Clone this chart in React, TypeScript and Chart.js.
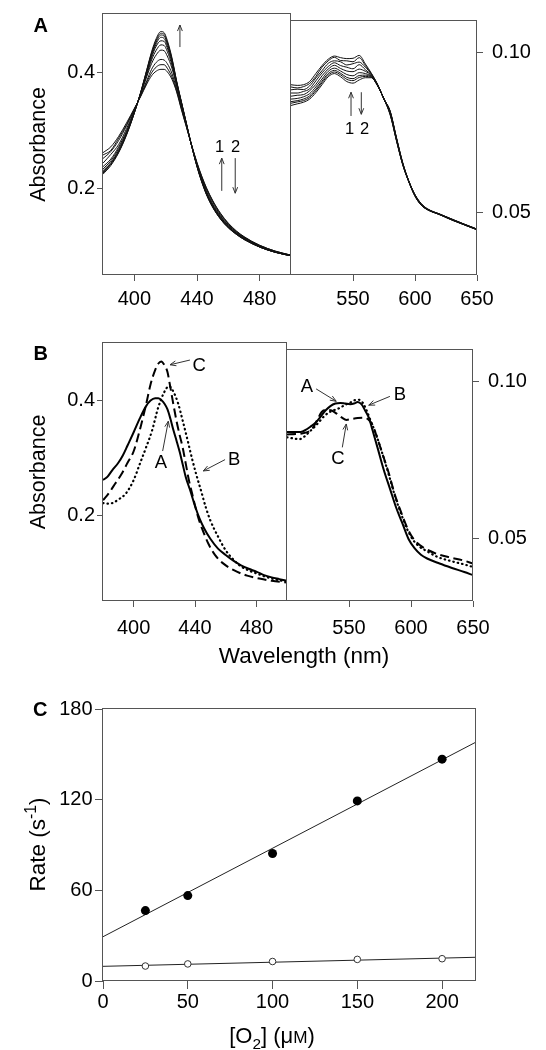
import React, { useEffect, useRef } from "react";
import { Chart, registerables } from "chart.js";

Chart.register(...registerables);

const FONT = '"Liberation Sans", Arial, Helvetica, sans-serif';
const INK = "#000";
const FRAME = "#555";
const TICK_SIZE = 20;

// ---------------- Panel A : Soret region (nm) ----------------
const soretWavelengths = [380, 385, 390, 395, 400, 404, 408, 411, 414, 417, 419, 421, 424, 427, 430, 433, 436, 440, 443, 446, 450, 455, 460, 465, 470, 480, 490, 500];
const soretTrace1 = [0.225, 0.240, 0.262, 0.292, 0.330, 0.365, 0.405, 0.435, 0.458, 0.470, 0.468, 0.455, 0.425, 0.385, 0.350, 0.315, 0.280, 0.238, 0.212, 0.190, 0.168, 0.148, 0.133, 0.122, 0.113, 0.100, 0.091, 0.085];
const soretTrace2 = [0.227, 0.242, 0.263, 0.293, 0.330, 0.365, 0.404, 0.433, 0.455, 0.467, 0.465, 0.452, 0.423, 0.384, 0.349, 0.315, 0.280, 0.238, 0.212, 0.191, 0.169, 0.148, 0.133, 0.122, 0.113, 0.100, 0.091, 0.085];
const soretTrace3 = [0.229, 0.243, 0.265, 0.294, 0.331, 0.364, 0.403, 0.431, 0.452, 0.464, 0.462, 0.450, 0.421, 0.383, 0.349, 0.314, 0.280, 0.239, 0.213, 0.191, 0.169, 0.149, 0.134, 0.123, 0.114, 0.100, 0.091, 0.085];
const soretTrace4 = [0.231, 0.245, 0.266, 0.295, 0.331, 0.364, 0.401, 0.428, 0.449, 0.460, 0.458, 0.446, 0.419, 0.382, 0.348, 0.314, 0.280, 0.239, 0.214, 0.192, 0.170, 0.150, 0.134, 0.123, 0.114, 0.100, 0.091, 0.085];
const soretTrace5 = [0.234, 0.248, 0.269, 0.297, 0.332, 0.363, 0.399, 0.425, 0.445, 0.454, 0.453, 0.442, 0.416, 0.380, 0.347, 0.313, 0.280, 0.240, 0.214, 0.193, 0.171, 0.150, 0.135, 0.123, 0.114, 0.101, 0.091, 0.085];
const soretTrace6 = [0.238, 0.251, 0.272, 0.299, 0.333, 0.363, 0.396, 0.421, 0.438, 0.447, 0.446, 0.436, 0.412, 0.378, 0.345, 0.313, 0.280, 0.240, 0.216, 0.194, 0.172, 0.152, 0.136, 0.124, 0.115, 0.101, 0.092, 0.085];
const soretTrace7 = [0.244, 0.259, 0.276, 0.303, 0.334, 0.362, 0.393, 0.415, 0.430, 0.438, 0.437, 0.428, 0.407, 0.376, 0.343, 0.312, 0.280, 0.242, 0.217, 0.196, 0.174, 0.153, 0.137, 0.125, 0.116, 0.102, 0.092, 0.086];
const soretTrace8 = [0.252, 0.264, 0.283, 0.308, 0.336, 0.360, 0.386, 0.405, 0.417, 0.422, 0.421, 0.415, 0.398, 0.371, 0.340, 0.310, 0.280, 0.243, 0.219, 0.199, 0.177, 0.155, 0.139, 0.126, 0.117, 0.102, 0.092, 0.086];
const soretTrace9 = [0.258, 0.266, 0.287, 0.310, 0.337, 0.359, 0.383, 0.399, 0.409, 0.413, 0.413, 0.407, 0.392, 0.368, 0.338, 0.309, 0.280, 0.244, 0.221, 0.201, 0.179, 0.157, 0.140, 0.127, 0.117, 0.103, 0.093, 0.086];
const soretTrace10 = [0.262, 0.272, 0.290, 0.313, 0.338, 0.358, 0.380, 0.394, 0.402, 0.405, 0.405, 0.401, 0.388, 0.366, 0.336, 0.308, 0.280, 0.245, 0.222, 0.202, 0.180, 0.158, 0.141, 0.128, 0.118, 0.103, 0.093, 0.086];
const soretTraces = [soretTrace1, soretTrace2, soretTrace3, soretTrace4, soretTrace5, soretTrace6, soretTrace7, soretTrace8, soretTrace9, soretTrace10];

// ---------------- Panel A : visible region (nm) ----------------
const visWavelengths = [500, 505, 510, 515, 520, 525, 530, 535, 540, 545, 550, 555, 560, 565, 570, 575, 580, 585, 590, 595, 600, 605, 610, 620, 630, 640, 650];
const visTrace1 = [0.0900, 0.0898, 0.0900, 0.0910, 0.0935, 0.0960, 0.0980, 0.0990, 0.0985, 0.0982, 0.0983, 0.0992, 0.0965, 0.0935, 0.0900, 0.0855, 0.0817, 0.0735, 0.0657, 0.0598, 0.0555, 0.0527, 0.0511, 0.0494, 0.0478, 0.0462, 0.0447];
const visTrace2 = [0.0893, 0.0890, 0.0894, 0.0904, 0.0926, 0.0955, 0.0975, 0.0986, 0.0976, 0.0975, 0.0972, 0.0985, 0.0960, 0.0933, 0.0899, 0.0855, 0.0816, 0.0734, 0.0656, 0.0598, 0.0555, 0.0527, 0.0510, 0.0494, 0.0478, 0.0462, 0.0447];
const visTrace3 = [0.0884, 0.0886, 0.0885, 0.0896, 0.0921, 0.0944, 0.0967, 0.0975, 0.0972, 0.0962, 0.0966, 0.0971, 0.0955, 0.0932, 0.0899, 0.0855, 0.0815, 0.0733, 0.0655, 0.0597, 0.0554, 0.0526, 0.0510, 0.0494, 0.0477, 0.0462, 0.0447];
const visTrace4 = [0.0874, 0.0874, 0.0879, 0.0887, 0.0912, 0.0937, 0.0957, 0.0969, 0.0960, 0.0955, 0.0950, 0.0963, 0.0947, 0.0930, 0.0898, 0.0855, 0.0814, 0.0732, 0.0654, 0.0597, 0.0553, 0.0525, 0.0509, 0.0493, 0.0477, 0.0461, 0.0446];
const visTrace5 = [0.0864, 0.0867, 0.0869, 0.0881, 0.0901, 0.0928, 0.0949, 0.0961, 0.0951, 0.0943, 0.0941, 0.0949, 0.0942, 0.0928, 0.0897, 0.0855, 0.0812, 0.0731, 0.0653, 0.0597, 0.0553, 0.0525, 0.0509, 0.0493, 0.0476, 0.0461, 0.0446];
const visTrace6 = [0.0855, 0.0857, 0.0862, 0.0872, 0.0893, 0.0918, 0.0942, 0.0952, 0.0943, 0.0932, 0.0928, 0.0938, 0.0935, 0.0926, 0.0896, 0.0855, 0.0810, 0.0729, 0.0652, 0.0596, 0.0552, 0.0524, 0.0509, 0.0493, 0.0476, 0.0461, 0.0446];
const visTrace7 = [0.0847, 0.0850, 0.0855, 0.0865, 0.0886, 0.0911, 0.0935, 0.0945, 0.0936, 0.0923, 0.0919, 0.0929, 0.0930, 0.0924, 0.0896, 0.0855, 0.0808, 0.0727, 0.0651, 0.0596, 0.0551, 0.0523, 0.0508, 0.0493, 0.0476, 0.0460, 0.0445];
const visTrace8 = [0.0842, 0.0846, 0.0850, 0.0860, 0.0881, 0.0906, 0.0930, 0.0940, 0.0931, 0.0917, 0.0913, 0.0923, 0.0926, 0.0923, 0.0896, 0.0855, 0.0806, 0.0726, 0.0651, 0.0596, 0.0551, 0.0522, 0.0508, 0.0492, 0.0475, 0.0460, 0.0445];
const visTrace9 = [0.0835, 0.0840, 0.0845, 0.0855, 0.0875, 0.0900, 0.0925, 0.0935, 0.0925, 0.0910, 0.0905, 0.0915, 0.0922, 0.0922, 0.0895, 0.0855, 0.0805, 0.0725, 0.0650, 0.0595, 0.0550, 0.0522, 0.0508, 0.0492, 0.0475, 0.0460, 0.0445];
const visTraces = [visTrace1, visTrace2, visTrace3, visTrace4, visTrace5, visTrace6, visTrace7, visTrace8, visTrace9];

// ---------------- Panel B : Soret region ----------------
const bSoretWlA = [380, 383, 386, 390, 393, 396, 400, 404, 408, 411, 414, 416, 418, 420, 422, 424, 426, 428, 430, 432, 434, 437, 440, 443, 446, 450, 455, 460, 465, 470, 475, 480, 485, 490, 495, 500];
const bSoretA = [0.262, 0.268, 0.279, 0.292, 0.305, 0.322, 0.345, 0.369, 0.390, 0.400, 0.404, 0.404, 0.401, 0.395, 0.385, 0.368, 0.348, 0.330, 0.311, 0.289, 0.267, 0.243, 0.217, 0.195, 0.178, 0.160, 0.143, 0.132, 0.122, 0.114, 0.108, 0.103, 0.097, 0.093, 0.090, 0.087];
const bSoretWlB = [380, 383, 386, 390, 395, 400, 404, 408, 412, 416, 420, 423, 426, 429, 432, 435, 438, 441, 444, 447, 450, 455, 460, 465, 470, 475, 480, 485, 490, 495, 500];
const bSoretB = [0.222, 0.221, 0.222, 0.228, 0.239, 0.262, 0.290, 0.318, 0.348, 0.388, 0.415, 0.425, 0.415, 0.395, 0.365, 0.333, 0.300, 0.270, 0.243, 0.215, 0.192, 0.164, 0.140, 0.124, 0.112, 0.105, 0.100, 0.095, 0.091, 0.088, 0.086];
const bSoretWlC = [380, 384, 388, 392, 396, 400, 404, 408, 411, 414, 416, 418, 420, 422, 424, 426, 428, 430, 432, 434, 436, 438, 440, 442, 445, 449, 453, 459, 465, 474, 482, 490, 500];
const bSoretC = [0.227, 0.240, 0.256, 0.272, 0.292, 0.312, 0.349, 0.392, 0.428, 0.453, 0.464, 0.468, 0.462, 0.450, 0.422, 0.392, 0.364, 0.340, 0.318, 0.290, 0.262, 0.240, 0.218, 0.198, 0.175, 0.150, 0.132, 0.116, 0.106, 0.096, 0.091, 0.087, 0.084];

// ---------------- Panel B : visible region ----------------
const bVisWlA = [500, 507, 511, 515, 519, 523, 527, 531, 535, 539, 543, 547, 551, 554, 557, 560, 563, 566, 569, 573, 578, 583, 588, 593, 598, 603, 608, 613, 623, 633, 643, 650];
const bVisA = [0.0840, 0.0840, 0.0840, 0.0846, 0.0857, 0.0869, 0.0888, 0.0908, 0.0922, 0.0930, 0.0932, 0.0930, 0.0928, 0.0930, 0.0935, 0.0928, 0.0908, 0.0885, 0.0845, 0.0790, 0.0720, 0.0660, 0.0600, 0.0550, 0.0500, 0.0470, 0.0450, 0.0438, 0.0422, 0.0408, 0.0395, 0.0385];
const bVisWlB = [500, 507, 510, 514, 518, 522, 526, 530, 534, 538, 542, 547, 552, 555, 558, 561, 564, 568, 572, 577, 582, 587, 592, 597, 602, 607, 612, 622, 632, 642, 650];
const bVisB = [0.0823, 0.0818, 0.0817, 0.0825, 0.0840, 0.0855, 0.0872, 0.0890, 0.0902, 0.0909, 0.0915, 0.0926, 0.0935, 0.0941, 0.0942, 0.0933, 0.0910, 0.0870, 0.0830, 0.0770, 0.0705, 0.0637, 0.0580, 0.0530, 0.0495, 0.0475, 0.0463, 0.0442, 0.0430, 0.0420, 0.0411];
const bVisWlC = [500, 507, 512, 517, 520, 524, 528, 532, 536, 540, 544, 548, 552, 557, 562, 566, 569, 572, 577, 582, 587, 592, 597, 602, 608, 612, 622, 632, 642, 650];
const bVisC = [0.0832, 0.0833, 0.0835, 0.0840, 0.0848, 0.0875, 0.0903, 0.0910, 0.0908, 0.0898, 0.0886, 0.0878, 0.0881, 0.0884, 0.0885, 0.0878, 0.0862, 0.0830, 0.0770, 0.0710, 0.0640, 0.0585, 0.0535, 0.0500, 0.0478, 0.0468, 0.0451, 0.0441, 0.0432, 0.0422];

// ---------------- Panel C ----------------
const o2Conc = [25, 50, 100, 150, 200];
const rateFilled = [46.6, 56.5, 84.4, 119.2, 146.8];
const rateOpen = [9.9, 11.3, 12.9, 14.3, 14.75];
const fitO2 = [0, 220];
const fitFilled = [29.3, 158.1];
const fitOpen = [9.7, 15.7];

// ---------------- Ticks ----------------
const ticksSoret = [400, 440, 480];
const ticksVis = [550, 600, 650];
const ticksAbsLeft = [0.2, 0.4];
const ticksAbsRight = [0.05, 0.1];
const ticksO2 = [0, 50, 100, 150, 200];
const ticksRate = [0, 60, 120, 180];

// ---------------- helpers ----------------
type Pt = { x: number; y: number };
const toPts = (xs: number[], ys: number[]): Pt[] => xs.map((x, i) => ({ x, y: ys[i] }));

type Seg = { t: string; k?: "sub" | "sup" | "sc" };
function drawRich(ctx: CanvasRenderingContext2D, segs: Seg[], x: number, y: number, size: number, bold = false, rotate = false) {
  const sz = (s: Seg) => (s.k === "sub" || s.k === "sup" ? size * 0.7 : s.k === "sc" ? size * 0.78 : size);
  const f = (s: Seg) => `${bold ? "bold " : ""}${sz(s)}px ${FONT}`;
  ctx.save();
  ctx.translate(x, y);
  if (rotate) ctx.rotate(-Math.PI / 2);
  let total = 0;
  for (const s of segs) {
    ctx.font = f(s);
    total += ctx.measureText(s.t).width;
  }
  let cx = -total / 2;
  ctx.textAlign = "left";
  ctx.textBaseline = "alphabetic";
  ctx.fillStyle = INK;
  for (const s of segs) {
    ctx.font = f(s);
    const dy = s.k === "sub" ? size * 0.26 : s.k === "sup" ? -size * 0.38 : 0;
    ctx.fillText(s.t, cx, dy);
    cx += ctx.measureText(s.t).width;
  }
  ctx.restore();
}

const framePlugin = {
  id: "frame",
  afterDraw(chart: any) {
    const { ctx, chartArea: a } = chart;
    const l = Math.round(a.left) - 0.5;
    const r = Math.round(a.right) - 0.5;
    const t = Math.round(a.top) - 0.5;
    const b = Math.round(a.bottom) - 0.5;
    ctx.save();
    ctx.strokeStyle = FRAME;
    ctx.lineWidth = 1;
    ctx.strokeRect(l, t, r - l, b - t);
    ctx.restore();
  },
};

type Ann = { arrow?: number[]; text?: string; at?: number[]; size?: number };
function makeAnnot(items: Ann[]) {
  return {
    id: "annot",
    afterDatasetsDraw(chart: any) {
      const xs = chart.scales.x;
      const ys = chart.scales.y;
      const ctx: CanvasRenderingContext2D = chart.ctx;
      ctx.save();
      ctx.strokeStyle = "#333";
      ctx.lineWidth = 1;
      for (const it of items) {
        if (it.arrow) {
          const [a, b, c, d] = it.arrow;
          const x1 = xs.getPixelForValue(a), y1 = ys.getPixelForValue(b);
          const x2 = xs.getPixelForValue(c), y2 = ys.getPixelForValue(d);
          ctx.beginPath();
          ctx.moveTo(x1, y1);
          ctx.lineTo(x2, y2);
          ctx.stroke();
          const ang = Math.atan2(y2 - y1, x2 - x1);
          const L = 6.5, w = 0.38;
          ctx.beginPath();
          ctx.moveTo(x2 - L * Math.cos(ang - w), y2 - L * Math.sin(ang - w));
          ctx.lineTo(x2, y2);
          ctx.lineTo(x2 - L * Math.cos(ang + w), y2 - L * Math.sin(ang + w));
          ctx.stroke();
        }
        if (it.text && it.at) {
          const size = it.size || 16;
          const px = xs.getPixelForValue(it.at[0]);
          const py = ys.getPixelForValue(it.at[1]);
          drawRich(ctx, [{ t: it.text }], px, py + size * 0.358, size);
        }
      }
      ctx.restore();
    },
  };
}

type TextItem = { segs: Seg[]; x: number; y: number; size: number; bold?: boolean; rotate?: boolean };
function makeTexts(items: TextItem[]) {
  return {
    id: "texts",
    afterDraw(chart: any) {
      for (const it of items) drawRich(chart.ctx, it.segs, it.x, it.y, it.size, it.bold, it.rotate);
    },
  };
}

function xScale(min: number, max: number, ticks: number[], height: number, tickLen: number, pad: number) {
  return {
    type: "linear",
    position: "bottom",
    min,
    max,
    afterBuildTicks: (s: any) => {
      s.ticks = ticks.map((v) => ({ value: v }));
    },
    afterFit: (s: any) => {
      s.height = height;
    },
    grid: { display: true, drawOnChartArea: false, drawTicks: true, tickLength: tickLen, color: FRAME, lineWidth: 1 },
    border: { display: false },
    ticks: { color: INK, font: { family: FONT, size: TICK_SIZE }, padding: pad, autoSkip: false, maxRotation: 0, callback: (v: any) => String(v) },
  };
}

function yScale(position: string, min: number, max: number, ticks: number[], width: number, tickLen: number, pad: number, digits: number, title?: string) {
  return {
    type: "linear",
    position,
    min,
    max,
    afterBuildTicks: (s: any) => {
      s.ticks = ticks.map((v) => ({ value: v }));
    },
    afterFit: (s: any) => {
      s.width = width;
    },
    grid: { display: true, drawOnChartArea: false, drawTicks: true, tickLength: tickLen, color: FRAME, lineWidth: 1 },
    border: { display: false },
    ticks: { color: INK, font: { family: FONT, size: TICK_SIZE }, padding: pad, autoSkip: false, callback: (v: any) => Number(v).toFixed(digits) },
    title: title
      ? { display: true, text: title, color: INK, font: { family: FONT, size: 21.5 }, padding: { top: 26.5, bottom: 0 } }
      : { display: false },
  };
}

function baseOptions(padding: any, scales: any) {
  return {
    responsive: false,
    animation: false,
    events: [],
    layout: { padding },
    plugins: { legend: { display: false }, tooltip: { enabled: false }, title: { display: false } },
    scales,
  };
}

const spectrum = (data: Pt[], extra: any = {}) => ({
  data,
  borderColor: "#111",
  borderWidth: 1,
  pointRadius: 0,
  fill: false,
  cubicInterpolationMode: "monotone",
  ...extra,
});

// ---------------- chart configs ----------------
const absLeftMin = 0.052, absLeftMax = 0.5;
const absRightMin = 0.0303, absRightMax = 0.11;

function cfgALeft(): any {
  return {
    type: "line",
    data: { datasets: soretTraces.map((tr) => spectrum(toPts(soretWavelengths, tr))) },
    options: baseOptions({ left: 0, right: 255, top: 14, bottom: 0 }, {
      x: xScale(380, 500, ticksSoret, 45, 6, 6),
      y: yScale("left", absLeftMin, absLeftMax, ticksAbsLeft, 103, 6, 2, 1, "Absorbance"),
    }),
    plugins: [
      framePlugin,
      makeAnnot([
        { arrow: [429.1, 0.4433, 429.1, 0.4811] },
        { text: "1", at: [454.4, 0.2732], size: 16.5 },
        { text: "2", at: [464.6, 0.2732], size: 16.5 },
        { arrow: [455.8, 0.1964, 455.8, 0.2526] },
        { arrow: [464.4, 0.2526, 464.4, 0.1924] },
      ]),
      makeTexts([{ segs: [{ t: "A" }], x: 40.8, y: 32.3, size: 20, bold: true }]),
    ],
  };
}

function cfgARight(): any {
  return {
    type: "line",
    data: { datasets: visTraces.map((tr) => spectrum(toPts(visWavelengths, tr))) },
    options: baseOptions({ left: 291, right: 0, top: 14, bottom: 0 }, {
      x: xScale(500, 650, ticksVis, 45, 6, 6),
      y: yScale("right", absRightMin, absRightMax, ticksAbsRight, 69, 6, 9, 2),
    }),
    plugins: [
      framePlugin,
      makeAnnot([
        { arrow: [548.4, 0.0802, 548.4, 0.08765] },
        { arrow: [556.7, 0.08765, 556.7, 0.08073] },
        { text: "1", at: [547.2, 0.07646], size: 16.5 },
        { text: "2", at: [559.3, 0.07646], size: 16.5 },
      ]),
    ],
  };
}

function cfgBLeft(): any {
  return {
    type: "line",
    data: {
      datasets: [
        spectrum(toPts(bSoretWlA, bSoretA), { borderWidth: 2, borderColor: "#000" }),
        spectrum(toPts(bSoretWlB, bSoretB), { borderWidth: 2.2, borderColor: "#000", borderDash: [0.5, 4], borderCapStyle: "round" }),
        spectrum(toPts(bSoretWlC, bSoretC), { borderWidth: 2, borderColor: "#000", borderDash: [9, 4.5] }),
      ],
    },
    options: baseOptions({ left: 0, right: 259, top: 14, bottom: 0 }, {
      x: xScale(380, 500, ticksSoret, 88, 6, 9),
      y: yScale("left", absLeftMin, absLeftMax, ticksAbsLeft, 103, 6, 2, 1, "Absorbance"),
    }),
    plugins: [
      framePlugin,
      makeAnnot([
        { arrow: [436.7, 0.4704, 423.7, 0.4622] },
        { text: "C", at: [442.8, 0.4626], size: 18.5 },
        { arrow: [418.9, 0.3124, 422.6, 0.3642] },
        { text: "A", at: [417.7, 0.2949], size: 18.5 },
        { arrow: [459.6, 0.2975, 445.4, 0.2778] },
        { text: "B", at: [465.6, 0.2989], size: 18.5 },
      ]),
      makeTexts([
        { segs: [{ t: "B" }], x: 40.8, y: 31, size: 20, bold: true },
        { segs: [{ t: "Wavelength (nm)" }], x: 304, y: 334, size: 22.5 },
      ]),
    ],
  };
}

function cfgBRight(): any {
  return {
    type: "line",
    data: {
      datasets: [
        spectrum(toPts(bVisWlA, bVisA), { borderWidth: 2, borderColor: "#000" }),
        spectrum(toPts(bVisWlB, bVisB), { borderWidth: 2.2, borderColor: "#000", borderDash: [0.5, 4], borderCapStyle: "round" }),
        spectrum(toPts(bVisWlC, bVisC), { borderWidth: 2, borderColor: "#000", borderDash: [9, 4.5] }),
      ],
    },
    options: baseOptions({ left: 287, right: 0, top: 14, bottom: 0 }, {
      x: xScale(500, 650, ticksVis, 88, 6, 9),
      y: yScale("right", absRightMin, absRightMax, ticksAbsRight, 73, 6, 9, 2),
    }),
    plugins: [
      framePlugin,
      makeAnnot([
        { arrow: [523.5, 0.09765, 539.7, 0.09372] },
        { text: "A", at: [516.1, 0.09867], size: 18.5 },
        { arrow: [583, 0.09527, 565.9, 0.09248] },
        { text: "B", at: [591.1, 0.0961], size: 18.5 },
        { arrow: [544.6, 0.07908, 547.8, 0.08651] },
        { text: "C", at: [541, 0.076], size: 18.5 },
      ]),
    ],
  };
}

function cfgC(): any {
  return {
    type: "line",
    data: {
      datasets: [
        { data: toPts(o2Conc, rateFilled), showLine: false, pointRadius: 4.5, pointBackgroundColor: "#000", pointBorderColor: "#000", pointBorderWidth: 0 },
        { data: toPts(o2Conc, rateOpen), showLine: false, pointRadius: 3.3, pointBackgroundColor: "#fff", pointBorderColor: "#333", pointBorderWidth: 1 },
        { data: toPts(fitO2, fitFilled), borderColor: "#222", borderWidth: 1, pointRadius: 0 },
        { data: toPts(fitO2, fitOpen), borderColor: "#222", borderWidth: 1, pointRadius: 0 },
      ],
    },
    options: baseOptions({ left: 0, right: 70, top: 19, bottom: 0 }, {
      x: xScale(0, 220, ticksO2, 69, 8, 1.5),
      y: yScale("left", 0, 180, ticksRate, 103, 8, 2.5, 0),
    }),
    plugins: [
      framePlugin,
      makeTexts([
        { segs: [{ t: "C" }], x: 40.3, y: 25.7, size: 20, bold: true },
        { segs: [{ t: "[O" }, { t: "2", k: "sub" }, { t: "] (μ" }, { t: "M", k: "sc" }, { t: ")" }], x: 272, y: 353, size: 22 },
        { segs: [{ t: "Rate (s" }, { t: "-1", k: "sup" }, { t: ")" }], x: 45, y: 154.5, size: 22.5, rotate: true },
      ]),
    ],
  };
}

function ChartCanvas({ top, height, make }: { top: number; height: number; make: () => any }) {
  const ref = useRef<HTMLCanvasElement>(null);
  useEffect(() => {
    const chart = new Chart(ref.current as HTMLCanvasElement, make());
    return () => chart.destroy();
  }, []);
  return (
    <canvas
      ref={ref}
      width={546}
      height={height}
      style={{ position: "absolute", left: 0, top, width: 546, height, display: "block" }}
    />
  );
}

export default function App() {
  return (
    <div style={{ position: "absolute", left: 0, top: 0, width: 546, height: 1050, background: "#fff", overflow: "hidden" }}>
      <ChartCanvas top={0} height={320} make={cfgALeft} />
      <ChartCanvas top={0} height={320} make={cfgARight} />
      <ChartCanvas top={329} height={360} make={cfgBLeft} />
      <ChartCanvas top={329} height={360} make={cfgBRight} />
      <ChartCanvas top={690} height={360} make={cfgC} />
    </div>
  );
}
